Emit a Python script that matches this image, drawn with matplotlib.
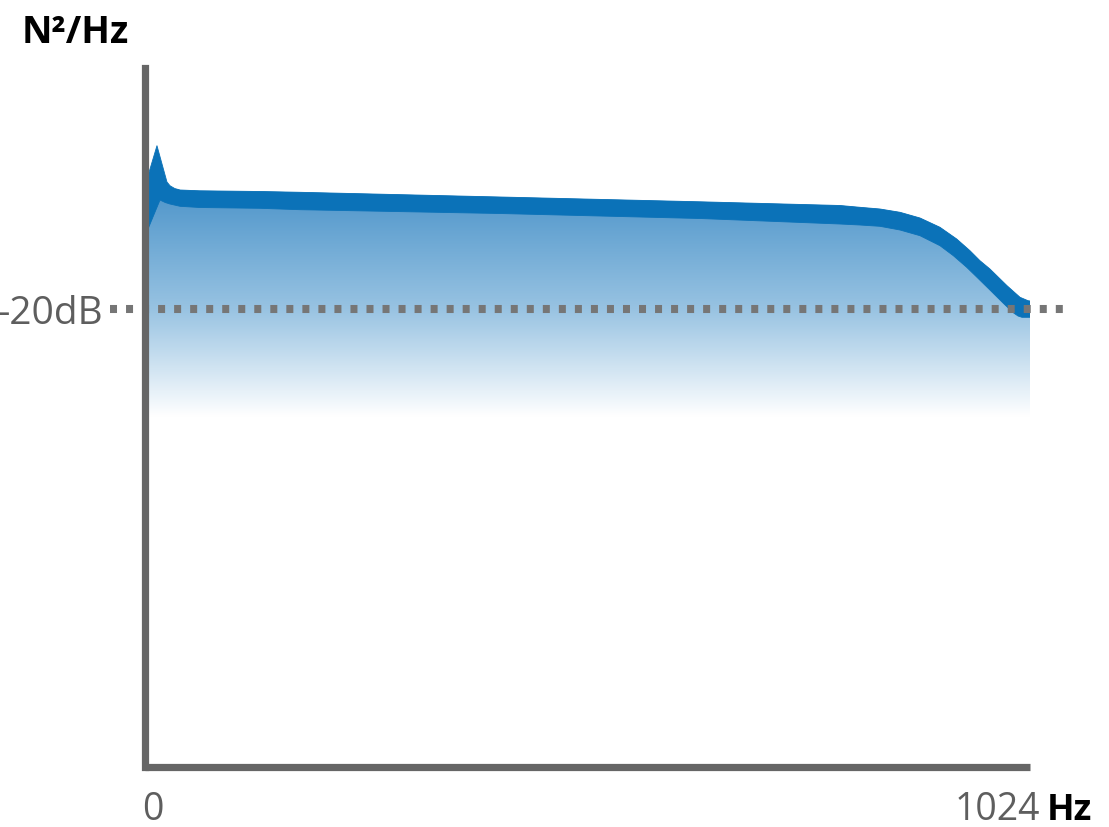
import numpy as np
import matplotlib
matplotlib.use("Agg")
import matplotlib.pyplot as plt
from matplotlib.colors import LinearSegmentedColormap
from matplotlib.patches import Polygon
import matplotlib.transforms as mtransforms

# ---- data ----
freq_top = [0, 10.4, 22, 25.5, 31, 37.2, 60, 130, 176.5, 408.7, 640.9, 803.4,
            826.6, 849.8, 873.1, 896.3, 919.5, 938.9, 954.3, 965.9, 977.5,
            997.3, 1012.4, 1021.7, 1024]
level_top = [-6.67, -3.67, -7.3, -7.67, -7.95, -8.1, -8.18, -8.25, -8.33, -8.8,
             -9.28, -9.65, -9.83, -10.0, -10.33, -10.9, -11.83, -13.0, -14.17,
             -15.17, -16.0, -17.67, -18.83, -19.17, -19.2]
freq_bot = [0, 13.9, 20, 25.5, 37.2, 60, 130, 176.5, 408.7, 640.9, 803.4, 826.6,
            849.8, 873.1, 896.3, 919.5, 935.0, 950.5, 962.1, 977.5, 992.7,
            1004.3, 1010.1, 1014.7, 1024]
level_bot = [-12.0, -9.1, -9.35, -9.5, -9.73, -9.85, -9.93, -10.07, -10.45,
             -10.95, -11.5, -11.6, -11.73, -12.1, -12.67, -13.67, -14.67,
             -15.83, -16.8, -18.1, -19.4, -20.35, -20.7, -20.83, -20.83]
ref_level = -20
fade_floor = -30.8
x_tick_values = [0, 1024]
x_tick_labels = ["0", "1024"]
x_unit = "Hz"
y_unit = "N²/Hz"
ref_label = "-20dB"

W, H = 1109, 828
ax_left, ax_right, ax_top, ax_bottom = 145, 1030, 68.5, 768
fig = plt.figure(figsize=(W / 100, H / 100), dpi=100)
ax = fig.add_axes([ax_left / W, (H - ax_bottom) / H,
                   (ax_right - ax_left) / W, (ax_bottom - ax_top) / H])
ax.set_xlim(-3.5, 1024)
ax.set_ylim(-65.8, 4.15)

line_color = "#0b72b8"
gray = "#666666"

# gradient fill under the curve
cmap = LinearSegmentedColormap.from_list(
    "fade", [(0.0, "#ffffff"), (0.474, "#98c3e2"), (1.0, "#4e95ca")])
grad = np.linspace(0, 1, 512).reshape(-1, 1)
im = ax.imshow(grad, cmap=cmap, origin="lower", aspect="auto",
               extent=[0, 1024, fade_floor, -8], zorder=1, interpolation="bilinear")
poly_x = list(freq_top) + [1024, 0]
poly_y = list(level_top) + [fade_floor, fade_floor]
clip = Polygon(np.column_stack([poly_x, poly_y]), closed=True,
               transform=ax.transData, facecolor="none", edgecolor="none")
ax.add_patch(clip)
im.set_clip_path(clip)

# thick curve band
band_x = np.concatenate([freq_top, freq_bot[::-1]])
band_y = np.concatenate([level_top, level_bot[::-1]])
ax.fill(band_x, band_y, color=line_color, lw=0.6, ec=line_color,
        joinstyle="round", zorder=3)

# dotted reference line
trans = mtransforms.blended_transform_factory(ax.transAxes, ax.transData)
ax.plot([-0.0395, 1.045], [ref_level, ref_level], transform=trans,
        color="#767676", lw=5.8, linestyle=(0, (0.87, 1.12)),
        solid_capstyle="butt", dash_capstyle="butt", clip_on=False, zorder=4)

# spines
for s in ["top", "right"]:
    ax.spines[s].set_visible(False)
for s in ["left", "bottom"]:
    ax.spines[s].set_color(gray)
    ax.spines[s].set_linewidth(5.2)
    ax.spines[s].set_zorder(5)
ax.spines["left"].set_capstyle("projecting")
ax.spines["bottom"].set_capstyle("butt")
ax.set_xticks([])
ax.set_yticks([])
ax.set_facecolor("none")

font = "Open Sans"
# y unit
fig.text(22 / W, (H - 43) / H, y_unit, fontsize=27, fontweight="bold",
         family=font, color="black", ha="left", va="baseline")
# ref label
ax.text(-0.0475, ref_level, ref_label, transform=trans, fontsize=28, family=font,
        color="#5e5e5e", ha="right", va="center_baseline")
# x labels
ax.text(153 / W, (H - 820) / H, x_tick_labels[0], transform=fig.transFigure,
        fontsize=27, family=font, color="#5e5e5e", ha="center", va="baseline")
ax.text(1040 / W, (H - 820) / H, x_tick_labels[1], transform=fig.transFigure,
        fontsize=27, family=font, color="#5e5e5e", ha="right", va="baseline")
fig.text(1047 / W, (H - 820) / H, x_unit, fontsize=26, fontweight="bold",
         family=font, color="black", ha="left", va="baseline")

fig.savefig("out.png", dpi=100)
